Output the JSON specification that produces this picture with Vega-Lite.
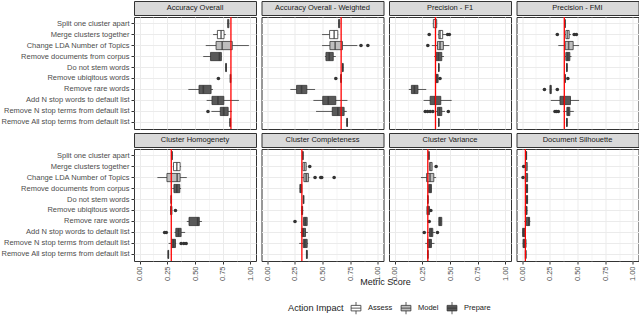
{
  "$schema": "https://vega.github.io/schema/vega-lite/v6.json",
  "padding": 0,
  "background": "white",
  "config": {
    "font": "Liberation Sans",
    "view": {"stroke": "#333333", "strokeWidth": 1, "fill": "white"},
    "legend": {"titleFontSize": 9.2, "titleFontWeight": "normal", "titleColor": "#1a1a1a", "labelFontSize": 7.5, "labelColor": "#1a1a1a", "symbolType": "M-0.8,-0.45L0.8,-0.45L0.8,0.45L-0.8,0.45Z M-0.8,0L0.8,0 M0,-0.45L0,-1 M0,0.45L0,1", "symbolSize": 150, "symbolStrokeColor": "#333333", "symbolStrokeWidth": 0.8, "columnPadding": 6, "labelOffset": 5, "titlePadding": 5}
  },
  "datasets": {
    "d": [
      {"p":"Accuracy Overall","a":"Split one cluster apart","i":"Assess","lo":0.79,"q1":0.795,"md":0.8,"q3":0.805,"hi":0.81},
      {"p":"Accuracy Overall","a":"Merge clusters together","i":"Assess","lo":0.663,"q1":0.702,"md":0.735,"q3":0.762,"hi":0.778},
      {"p":"Accuracy Overall","a":"Change LDA Number of Topics","i":"Model","lo":0.597,"q1":0.69,"md":0.745,"q3":0.836,"hi":0.986},
      {"p":"Accuracy Overall","a":"Remove documents from corpus","i":"Prepare","lo":0.574,"q1":0.64,"md":0.72,"q3":0.738,"hi":0.738},
      {"p":"Accuracy Overall","a":"Do not stem words","i":"Prepare","lo":0.775,"q1":0.777,"md":0.78,"q3":0.783,"hi":0.785},
      {"p":"Accuracy Overall","a":"Remove ubiqitous words","i":"Prepare","lo":0.815,"q1":0.818,"md":0.82,"q3":0.822,"hi":0.825},
      {"p":"Accuracy Overall","a":"Remove rare words","i":"Prepare","lo":0.44,"q1":0.536,"md":0.575,"q3":0.645,"hi":0.662},
      {"p":"Accuracy Overall","a":"Add N stop words to default list","i":"Prepare","lo":0.605,"q1":0.653,"md":0.707,"q3":0.76,"hi":0.896},
      {"p":"Accuracy Overall","a":"Remove N stop terms from default list","i":"Prepare","lo":0.648,"q1":0.728,"md":0.759,"q3":0.799,"hi":0.833},
      {"p":"Accuracy Overall","a":"Remove All stop terms from default list","i":"Prepare","lo":0.81,"q1":0.814,"md":0.818,"q3":0.82,"hi":0.823},
      {"p":"Accuracy Overall","a":"Remove ubiqitous words","v":0.711},
      {"p":"Accuracy Overall","a":"Remove N stop terms from default list","v":0.617},
      {"p":"Accuracy Overall","b":0.824},

      {"p":"Accuracy Overall - Weighted","a":"Split one cluster apart","i":"Assess","lo":0.64,"q1":0.645,"md":0.65,"q3":0.655,"hi":0.66},
      {"p":"Accuracy Overall - Weighted","a":"Merge clusters together","i":"Assess","lo":0.496,"q1":0.564,"md":0.605,"q3":0.638,"hi":0.641},
      {"p":"Accuracy Overall - Weighted","a":"Change LDA Number of Topics","i":"Model","lo":0.496,"q1":0.567,"md":0.614,"q3":0.68,"hi":0.814},
      {"p":"Accuracy Overall - Weighted","a":"Remove documents from corpus","i":"Prepare","lo":0.522,"q1":0.531,"md":0.561,"q3":0.597,"hi":0.62},
      {"p":"Accuracy Overall - Weighted","a":"Do not stem words","i":"Prepare","lo":0.678,"q1":0.68,"md":0.683,"q3":0.686,"hi":0.688},
      {"p":"Accuracy Overall - Weighted","a":"Remove ubiqitous words","i":"Prepare","lo":0.663,"q1":0.665,"md":0.668,"q3":0.67,"hi":0.672},
      {"p":"Accuracy Overall - Weighted","a":"Remove rare words","i":"Prepare","lo":0.21,"q1":0.266,"md":0.311,"q3":0.359,"hi":0.433},
      {"p":"Accuracy Overall - Weighted","a":"Add N stop words to default list","i":"Prepare","lo":0.418,"q1":0.502,"md":0.552,"q3":0.62,"hi":0.725},
      {"p":"Accuracy Overall - Weighted","a":"Remove N stop terms from default list","i":"Prepare","lo":0.442,"q1":0.588,"md":0.638,"q3":0.695,"hi":0.719},
      {"p":"Accuracy Overall - Weighted","a":"Remove All stop terms from default list","i":"Prepare","lo":0.717,"q1":0.719,"md":0.722,"q3":0.725,"hi":0.728},
      {"p":"Accuracy Overall - Weighted","a":"Change LDA Number of Topics","v":0.847},
      {"p":"Accuracy Overall - Weighted","a":"Change LDA Number of Topics","v":0.909},
      {"p":"Accuracy Overall - Weighted","a":"Remove ubiqitous words","v":0.62},
      {"p":"Accuracy Overall - Weighted","b":0.668},

      {"p":"Precision - F1","a":"Split one cluster apart","i":"Assess","lo":0.345,"q1":0.35,"md":0.37,"q3":0.38,"hi":0.385},
      {"p":"Precision - F1","a":"Merge clusters together","i":"Assess","lo":0.39,"q1":0.399,"md":0.41,"q3":0.434,"hi":0.47},
      {"p":"Precision - F1","a":"Change LDA Number of Topics","i":"Model","lo":0.336,"q1":0.387,"md":0.41,"q3":0.44,"hi":0.494},
      {"p":"Precision - F1","a":"Remove documents from corpus","i":"Prepare","lo":0.357,"q1":0.375,"md":0.396,"q3":0.426,"hi":0.446},
      {"p":"Precision - F1","a":"Do not stem words","i":"Prepare","lo":0.394,"q1":0.397,"md":0.399,"q3":0.401,"hi":0.404},
      {"p":"Precision - F1","a":"Remove ubiqitous words","i":"Prepare","lo":0.365,"q1":0.369,"md":0.38,"q3":0.393,"hi":0.397},
      {"p":"Precision - F1","a":"Remove rare words","i":"Prepare","lo":0.128,"q1":0.152,"md":0.179,"q3":0.211,"hi":0.286},
      {"p":"Precision - F1","a":"Add N stop words to default list","i":"Prepare","lo":0.262,"q1":0.321,"md":0.366,"q3":0.417,"hi":0.515},
      {"p":"Precision - F1","a":"Remove N stop terms from default list","i":"Prepare","lo":0.366,"q1":0.387,"md":0.405,"q3":0.426,"hi":0.455},
      {"p":"Precision - F1","a":"Remove All stop terms from default list","i":"Prepare","lo":0.394,"q1":0.397,"md":0.399,"q3":0.401,"hi":0.404},
      {"p":"Precision - F1","a":"Merge clusters together","v":0.3125},
      {"p":"Precision - F1","a":"Merge clusters together","v":0.479},
      {"p":"Precision - F1","a":"Merge clusters together","v":0.494},
      {"p":"Precision - F1","a":"Change LDA Number of Topics","v":0.3},
      {"p":"Precision - F1","a":"Remove ubiqitous words","v":0.41},
      {"p":"Precision - F1","a":"Remove N stop terms from default list","v":0.277},
      {"p":"Precision - F1","a":"Remove N stop terms from default list","v":0.298},
      {"p":"Precision - F1","a":"Remove N stop terms from default list","v":0.321},
      {"p":"Precision - F1","a":"Remove N stop terms from default list","v":0.345},
      {"p":"Precision - F1","a":"Remove N stop terms from default list","v":0.485},
      {"p":"Precision - F1","b":0.369},

      {"p":"Precision - FMI","a":"Split one cluster apart","i":"Assess","lo":0.383,"q1":0.385,"md":0.387,"q3":0.389,"hi":0.391},
      {"p":"Precision - FMI","a":"Merge clusters together","i":"Assess","lo":0.387,"q1":0.395,"md":0.41,"q3":0.425,"hi":0.44},
      {"p":"Precision - FMI","a":"Change LDA Number of Topics","i":"Model","lo":0.327,"q1":0.389,"md":0.42,"q3":0.461,"hi":0.514},
      {"p":"Precision - FMI","a":"Remove documents from corpus","i":"Prepare","lo":0.387,"q1":0.395,"md":0.413,"q3":0.431,"hi":0.446},
      {"p":"Precision - FMI","a":"Do not stem words","i":"Prepare","lo":0.399,"q1":0.401,"md":0.404,"q3":0.407,"hi":0.409},
      {"p":"Precision - FMI","a":"Remove ubiqitous words","i":"Prepare","lo":0.383,"q1":0.385,"md":0.387,"q3":0.39,"hi":0.392},
      {"p":"Precision - FMI","a":"Remove rare words","i":"Prepare","lo":0.25,"q1":0.252,"md":0.257,"q3":0.263,"hi":0.265},
      {"p":"Precision - FMI","a":"Add N stop words to default list","i":"Prepare","lo":0.259,"q1":0.342,"md":0.378,"q3":0.437,"hi":0.514},
      {"p":"Precision - FMI","a":"Remove N stop terms from default list","i":"Prepare","lo":0.371,"q1":0.404,"md":0.416,"q3":0.431,"hi":0.467},
      {"p":"Precision - FMI","a":"Remove All stop terms from default list","i":"Prepare","lo":0.399,"q1":0.401,"md":0.404,"q3":0.407,"hi":0.409},
      {"p":"Precision - FMI","a":"Merge clusters together","v":0.318},
      {"p":"Precision - FMI","a":"Merge clusters together","v":0.47},
      {"p":"Precision - FMI","a":"Merge clusters together","v":0.49},
      {"p":"Precision - FMI","a":"Remove ubiqitous words","v":0.413},
      {"p":"Precision - FMI","a":"Remove rare words","v":0.202},
      {"p":"Precision - FMI","a":"Remove rare words","v":0.318},
      {"p":"Precision - FMI","a":"Remove N stop terms from default list","v":0.297},
      {"p":"Precision - FMI","a":"Remove N stop terms from default list","v":0.311},
      {"p":"Precision - FMI","a":"Remove N stop terms from default list","v":0.327},
      {"p":"Precision - FMI","b":0.381},

      {"p":"Cluster Homogenety","a":"Split one cluster apart","i":"Assess","lo":0.285,"q1":0.288,"md":0.292,"q3":0.296,"hi":0.298},
      {"p":"Cluster Homogenety","a":"Merge clusters together","i":"Assess","lo":0.3,"q1":0.306,"md":0.336,"q3":0.366,"hi":0.375},
      {"p":"Cluster Homogenety","a":"Change LDA Number of Topics","i":"Model","lo":0.161,"q1":0.247,"md":0.339,"q3":0.366,"hi":0.426},
      {"p":"Cluster Homogenety","a":"Remove documents from corpus","i":"Prepare","lo":0.295,"q1":0.31,"md":0.336,"q3":0.363,"hi":0.375},
      {"p":"Cluster Homogenety","a":"Do not stem words","i":"Prepare","lo":0.283,"q1":0.284,"md":0.286,"q3":0.288,"hi":0.29},
      {"p":"Cluster Homogenety","a":"Remove ubiqitous words","i":"Prepare","lo":0.276,"q1":0.28,"md":0.286,"q3":0.292,"hi":0.295},
      {"p":"Cluster Homogenety","a":"Remove rare words","i":"Prepare","lo":0.426,"q1":0.446,"md":0.524,"q3":0.539,"hi":0.5625},
      {"p":"Cluster Homogenety","a":"Add N stop words to default list","i":"Prepare","lo":0.315,"q1":0.327,"md":0.351,"q3":0.375,"hi":0.411},
      {"p":"Cluster Homogenety","a":"Remove N stop terms from default list","i":"Prepare","lo":0.262,"q1":0.289,"md":0.306,"q3":0.324,"hi":0.33},
      {"p":"Cluster Homogenety","a":"Remove All stop terms from default list","i":"Prepare","lo":0.256,"q1":0.257,"md":0.259,"q3":0.262,"hi":0.263},
      {"p":"Cluster Homogenety","a":"Remove ubiqitous words","v":0.324},
      {"p":"Cluster Homogenety","a":"Add N stop words to default list","v":0.226},
      {"p":"Cluster Homogenety","a":"Add N stop words to default list","v":0.241},
      {"p":"Cluster Homogenety","a":"Remove N stop terms from default list","v":0.375},
      {"p":"Cluster Homogenety","a":"Remove N stop terms from default list","v":0.399},
      {"p":"Cluster Homogenety","a":"Remove N stop terms from default list","v":0.42},
      {"p":"Cluster Homogenety","b":0.286},

      {"p":"Cluster Completeness","a":"Split one cluster apart","i":"Assess","lo":0.318,"q1":0.32,"md":0.323,"q3":0.326,"hi":0.328},
      {"p":"Cluster Completeness","a":"Merge clusters together","i":"Assess","lo":0.32,"q1":0.323,"md":0.338,"q3":0.353,"hi":0.356},
      {"p":"Cluster Completeness","a":"Change LDA Number of Topics","i":"Model","lo":0.308,"q1":0.332,"md":0.353,"q3":0.373,"hi":0.382},
      {"p":"Cluster Completeness","a":"Remove documents from corpus","i":"Prepare","lo":0.294,"q1":0.296,"md":0.305,"q3":0.314,"hi":0.316},
      {"p":"Cluster Completeness","a":"Do not stem words","i":"Prepare","lo":0.326,"q1":0.327,"md":0.329,"q3":0.331,"hi":0.332},
      {"p":"Cluster Completeness","a":"Remove ubiqitous words","i":"Prepare","lo":0.305,"q1":0.312,"md":0.317,"q3":0.321,"hi":0.328},
      {"p":"Cluster Completeness","a":"Remove rare words","i":"Prepare","lo":0.329,"q1":0.329,"md":0.344,"q3":0.362,"hi":0.362},
      {"p":"Cluster Completeness","a":"Add N stop words to default list","i":"Prepare","lo":0.299,"q1":0.314,"md":0.326,"q3":0.347,"hi":0.368},
      {"p":"Cluster Completeness","a":"Remove N stop terms from default list","i":"Prepare","lo":0.29,"q1":0.326,"md":0.341,"q3":0.362,"hi":0.37},
      {"p":"Cluster Completeness","a":"Remove All stop terms from default list","i":"Prepare","lo":0.353,"q1":0.355,"md":0.359,"q3":0.362,"hi":0.364},
      {"p":"Cluster Completeness","a":"Merge clusters together","v":0.385},
      {"p":"Cluster Completeness","a":"Change LDA Number of Topics","v":0.433},
      {"p":"Cluster Completeness","a":"Change LDA Number of Topics","v":0.484},
      {"p":"Cluster Completeness","a":"Change LDA Number of Topics","v":0.493},
      {"p":"Cluster Completeness","a":"Change LDA Number of Topics","v":0.605},
      {"p":"Cluster Completeness","a":"Remove rare words","v":0.252},
      {"p":"Cluster Completeness","b":0.314},

      {"p":"Cluster Variance","a":"Split one cluster apart","i":"Assess","lo":0.306,"q1":0.308,"md":0.31,"q3":0.312,"hi":0.314},
      {"p":"Cluster Variance","a":"Merge clusters together","i":"Assess","lo":0.315,"q1":0.315,"md":0.327,"q3":0.339,"hi":0.339},
      {"p":"Cluster Variance","a":"Change LDA Number of Topics","i":"Model","lo":0.238,"q1":0.289,"md":0.32,"q3":0.354,"hi":0.375},
      {"p":"Cluster Variance","a":"Remove documents from corpus","i":"Prepare","lo":0.307,"q1":0.307,"md":0.32,"q3":0.333,"hi":0.333},
      {"p":"Cluster Variance","a":"Do not stem words","i":"Prepare","lo":0.297,"q1":0.298,"md":0.3,"q3":0.302,"hi":0.303},
      {"p":"Cluster Variance","a":"Remove ubiqitous words","i":"Prepare","lo":0.292,"q1":0.292,"md":0.3,"q3":0.315,"hi":0.315},
      {"p":"Cluster Variance","a":"Remove rare words","i":"Prepare","lo":0.399,"q1":0.399,"md":0.41,"q3":0.426,"hi":0.426},
      {"p":"Cluster Variance","a":"Add N stop words to default list","i":"Prepare","lo":0.292,"q1":0.315,"md":0.33,"q3":0.345,"hi":0.366},
      {"p":"Cluster Variance","a":"Remove N stop terms from default list","i":"Prepare","lo":0.277,"q1":0.298,"md":0.318,"q3":0.333,"hi":0.36},
      {"p":"Cluster Variance","a":"Remove All stop terms from default list","i":"Prepare","lo":0.297,"q1":0.298,"md":0.3,"q3":0.302,"hi":0.303},
      {"p":"Cluster Variance","a":"Merge clusters together","v":0.375},
      {"p":"Cluster Variance","a":"Remove ubiqitous words","v":0.327},
      {"p":"Cluster Variance","a":"Remove rare words","v":0.3125},
      {"p":"Cluster Variance","a":"Add N stop words to default list","v":0.268},
      {"p":"Cluster Variance","a":"Add N stop words to default list","v":0.387},
      {"p":"Cluster Variance","b":0.3},

      {"p":"Document Silhouette","a":"Split one cluster apart","i":"Assess","lo":0.033,"q1":0.035,"md":0.038,"q3":0.041,"hi":0.043},
      {"p":"Document Silhouette","a":"Merge clusters together","i":"Assess","lo":0.03,"q1":0.03,"md":0.038,"q3":0.047,"hi":0.047},
      {"p":"Document Silhouette","a":"Change LDA Number of Topics","i":"Model","lo":0.03,"q1":0.03,"md":0.04,"q3":0.05,"hi":0.05},
      {"p":"Document Silhouette","a":"Remove documents from corpus","i":"Prepare","lo":0.038,"q1":0.038,"md":0.044,"q3":0.05,"hi":0.05},
      {"p":"Document Silhouette","a":"Do not stem words","i":"Prepare","lo":0.04,"q1":0.04,"md":0.045,"q3":0.05,"hi":0.05},
      {"p":"Document Silhouette","a":"Remove ubiqitous words","i":"Prepare","lo":0.025,"q1":0.03,"md":0.038,"q3":0.045,"hi":0.05},
      {"p":"Document Silhouette","a":"Remove rare words","i":"Prepare","lo":0.02,"q1":0.038,"md":0.06,"q3":0.068,"hi":0.075},
      {"p":"Document Silhouette","a":"Add N stop words to default list","i":"Prepare","lo":0.005,"q1":0.005,"md":0.015,"q3":0.03,"hi":0.03},
      {"p":"Document Silhouette","a":"Remove N stop terms from default list","i":"Prepare","lo":0.005,"q1":0.009,"md":0.02,"q3":0.036,"hi":0.04},
      {"p":"Document Silhouette","a":"Remove All stop terms from default list","i":"Prepare","lo":0.028,"q1":0.03,"md":0.033,"q3":0.036,"hi":0.038},
      {"p":"Document Silhouette","a":"Merge clusters together","v":0.015},
      {"p":"Document Silhouette","a":"Change LDA Number of Topics","v":0.009},
      {"p":"Document Silhouette","b":0.03}
    ]
  },
  "vconcat": [
    {"hconcat": [
      {"vconcat": [
        {"width": 122, "height": 14, "view": {"fill": "#d9d9d9", "stroke": "#333333"}, "data": {"name": "d"}, "transform": [{"filter": "isValid(datum.b) && datum.p == 'Accuracy Overall'"}], "mark": {"type": "text", "fontSize": 7.5, "color": "#1a1a1a"}, "encoding": {"text": {"field": "p"}}},
        {"width": 122, "height": 112, "data": {"name": "d"}, "transform": [{"filter": "datum.p == 'Accuracy Overall'"}],
         "resolve": {"axis": {"x": "independent", "y": "independent"}},
         "layer": [
          {"transform": [{"filter": "isValid(datum.q1)"}], "mark": {"type": "rule", "color": "#333333", "strokeWidth": 0.8},
           "encoding": {"y": {"field": "a", "type": "nominal", "scale": {"domain": ["Split one cluster apart","Merge clusters together","Change LDA Number of Topics","Remove documents from corpus","Do not stem words","Remove ubiqitous words","Remove rare words","Add N stop words to default list","Remove N stop terms from default list","Remove All stop terms from default list"], "paddingInner": 0, "paddingOuter": 0.1},
             "axis": {"title": null, "labelFontSize": 7.5, "labelColor": "#4d4d4d", "tickColor": "#333333", "tickSize": 3, "labelPadding": 2, "domain": false, "grid": true, "gridColor": "#ebebeb", "bandPosition": 0.5, "labelLimit": 300}},
            "x": {"field": "lo", "type": "quantitative", "scale": {"domain": [-0.05, 1.05], "nice": false, "zero": false},
             "axis": {"title": null, "values": [0,0.25,0.5,0.75,1], "labels": false, "ticks": false, "domain": false, "grid": true, "gridColor": "#ebebeb", "gridWidth": 1, "minExtent": 0, "maxExtent": 0}},
            "x2": {"field": "hi"}}},
          {"transform": [{"filter": "isValid(datum.q1)"}], "mark": {"type": "bar", "stroke": "#333333", "strokeWidth": 0.8, "height": {"band": 0.75}},
           "encoding": {"y": {"field": "a", "type": "nominal", "axis": null}, "x": {"field": "q1", "type": "quantitative", "axis": null}, "x2": {"field": "q3"},
            "fill": {"field": "i", "type": "nominal", "title": "Action Impact", "scale": {"domain": ["Assess","Model","Prepare"], "range": ["#ffffff","#bebebe","#595959"]}, "legend": {"orient": "none", "legendX": 154, "legendY": 300, "direction": "horizontal", "titleOrient": "left"}}}},
          {"transform": [{"filter": "isValid(datum.q1)"}], "mark": {"type": "tick", "color": "#333333", "thickness": 1.6, "size": 8.2},
           "encoding": {"y": {"field": "a", "type": "nominal", "axis": null}, "x": {"field": "md", "type": "quantitative", "axis": null}}},
          {"transform": [{"filter": "isValid(datum.v)"}], "mark": {"type": "circle", "color": "#333333", "size": 13, "opacity": 1},
           "encoding": {"y": {"field": "a", "type": "nominal", "axis": null}, "x": {"field": "v", "type": "quantitative", "axis": null}}},
          {"transform": [{"filter": "isValid(datum.b)"}], "mark": {"type": "rule", "color": "#ff0000", "strokeWidth": 1.3},
           "encoding": {"x": {"field": "b", "type": "quantitative", "axis": {"orient": "top", "title": null, "values": [0.125,0.375,0.625,0.875], "labels": false, "ticks": false, "domain": false, "grid": true, "gridColor": "#efefef", "gridWidth": 0.6, "minExtent": 0, "maxExtent": 0}}}}
         ]}
      ], "spacing": -1},
      {"vconcat": [
        {"width": 122, "height": 14, "view": {"fill": "#d9d9d9", "stroke": "#333333"}, "data": {"name": "d"}, "transform": [{"filter": "isValid(datum.b) && datum.p == 'Accuracy Overall - Weighted'"}], "mark": {"type": "text", "fontSize": 7.5, "color": "#1a1a1a"}, "encoding": {"text": {"field": "p"}}},
        {"width": 122, "height": 112, "data": {"name": "d"}, "transform": [{"filter": "datum.p == 'Accuracy Overall - Weighted'"}],
         "resolve": {"axis": {"x": "independent", "y": "independent"}},
         "layer": [
          {"transform": [{"filter": "isValid(datum.q1)"}], "mark": {"type": "rule", "color": "#333333", "strokeWidth": 0.8},
           "encoding": {"y": {"field": "a", "type": "nominal", "scale": {"domain": ["Split one cluster apart","Merge clusters together","Change LDA Number of Topics","Remove documents from corpus","Do not stem words","Remove ubiqitous words","Remove rare words","Add N stop words to default list","Remove N stop terms from default list","Remove All stop terms from default list"], "paddingInner": 0, "paddingOuter": 0.1},
             "axis": {"title": null, "labels": false, "ticks": false, "domain": false, "grid": true, "gridColor": "#ebebeb", "bandPosition": 0.5, "minExtent": 0, "maxExtent": 0}},
            "x": {"field": "lo", "type": "quantitative", "scale": {"domain": [-0.05, 1.05], "nice": false, "zero": false},
             "axis": {"title": null, "values": [0,0.25,0.5,0.75,1], "labels": false, "ticks": false, "domain": false, "grid": true, "gridColor": "#ebebeb", "gridWidth": 1, "minExtent": 0, "maxExtent": 0}},
            "x2": {"field": "hi"}}},
          {"transform": [{"filter": "isValid(datum.q1)"}], "mark": {"type": "bar", "stroke": "#333333", "strokeWidth": 0.8, "height": {"band": 0.75}},
           "encoding": {"y": {"field": "a", "type": "nominal", "axis": null}, "x": {"field": "q1", "type": "quantitative", "axis": null}, "x2": {"field": "q3"},
            "fill": {"field": "i", "type": "nominal", "title": "Action Impact", "scale": {"domain": ["Assess","Model","Prepare"], "range": ["#ffffff","#bebebe","#595959"]}, "legend": {"orient": "none", "legendX": 154, "legendY": 300, "direction": "horizontal", "titleOrient": "left"}}}},
          {"transform": [{"filter": "isValid(datum.q1)"}], "mark": {"type": "tick", "color": "#333333", "thickness": 1.6, "size": 8.2},
           "encoding": {"y": {"field": "a", "type": "nominal", "axis": null}, "x": {"field": "md", "type": "quantitative", "axis": null}}},
          {"transform": [{"filter": "isValid(datum.v)"}], "mark": {"type": "circle", "color": "#333333", "size": 13, "opacity": 1},
           "encoding": {"y": {"field": "a", "type": "nominal", "axis": null}, "x": {"field": "v", "type": "quantitative", "axis": null}}},
          {"transform": [{"filter": "isValid(datum.b)"}], "mark": {"type": "rule", "color": "#ff0000", "strokeWidth": 1.3},
           "encoding": {"x": {"field": "b", "type": "quantitative", "axis": {"orient": "top", "title": null, "values": [0.125,0.375,0.625,0.875], "labels": false, "ticks": false, "domain": false, "grid": true, "gridColor": "#efefef", "gridWidth": 0.6, "minExtent": 0, "maxExtent": 0}}}}
         ]}
      ], "spacing": -1},
      {"vconcat": [
        {"width": 122, "height": 14, "view": {"fill": "#d9d9d9", "stroke": "#333333"}, "data": {"name": "d"}, "transform": [{"filter": "isValid(datum.b) && datum.p == 'Precision - F1'"}], "mark": {"type": "text", "fontSize": 7.5, "color": "#1a1a1a"}, "encoding": {"text": {"field": "p"}}},
        {"width": 122, "height": 112, "data": {"name": "d"}, "transform": [{"filter": "datum.p == 'Precision - F1'"}],
         "resolve": {"axis": {"x": "independent", "y": "independent"}},
         "layer": [
          {"transform": [{"filter": "isValid(datum.q1)"}], "mark": {"type": "rule", "color": "#333333", "strokeWidth": 0.8},
           "encoding": {"y": {"field": "a", "type": "nominal", "scale": {"domain": ["Split one cluster apart","Merge clusters together","Change LDA Number of Topics","Remove documents from corpus","Do not stem words","Remove ubiqitous words","Remove rare words","Add N stop words to default list","Remove N stop terms from default list","Remove All stop terms from default list"], "paddingInner": 0, "paddingOuter": 0.1},
             "axis": {"title": null, "labels": false, "ticks": false, "domain": false, "grid": true, "gridColor": "#ebebeb", "bandPosition": 0.5, "minExtent": 0, "maxExtent": 0}},
            "x": {"field": "lo", "type": "quantitative", "scale": {"domain": [-0.05, 1.05], "nice": false, "zero": false},
             "axis": {"title": null, "values": [0,0.25,0.5,0.75,1], "labels": false, "ticks": false, "domain": false, "grid": true, "gridColor": "#ebebeb", "gridWidth": 1, "minExtent": 0, "maxExtent": 0}},
            "x2": {"field": "hi"}}},
          {"transform": [{"filter": "isValid(datum.q1)"}], "mark": {"type": "bar", "stroke": "#333333", "strokeWidth": 0.8, "height": {"band": 0.75}},
           "encoding": {"y": {"field": "a", "type": "nominal", "axis": null}, "x": {"field": "q1", "type": "quantitative", "axis": null}, "x2": {"field": "q3"},
            "fill": {"field": "i", "type": "nominal", "title": "Action Impact", "scale": {"domain": ["Assess","Model","Prepare"], "range": ["#ffffff","#bebebe","#595959"]}, "legend": {"orient": "none", "legendX": 154, "legendY": 300, "direction": "horizontal", "titleOrient": "left"}}}},
          {"transform": [{"filter": "isValid(datum.q1)"}], "mark": {"type": "tick", "color": "#333333", "thickness": 1.6, "size": 8.2},
           "encoding": {"y": {"field": "a", "type": "nominal", "axis": null}, "x": {"field": "md", "type": "quantitative", "axis": null}}},
          {"transform": [{"filter": "isValid(datum.v)"}], "mark": {"type": "circle", "color": "#333333", "size": 13, "opacity": 1},
           "encoding": {"y": {"field": "a", "type": "nominal", "axis": null}, "x": {"field": "v", "type": "quantitative", "axis": null}}},
          {"transform": [{"filter": "isValid(datum.b)"}], "mark": {"type": "rule", "color": "#ff0000", "strokeWidth": 1.3},
           "encoding": {"x": {"field": "b", "type": "quantitative", "axis": {"orient": "top", "title": null, "values": [0.125,0.375,0.625,0.875], "labels": false, "ticks": false, "domain": false, "grid": true, "gridColor": "#efefef", "gridWidth": 0.6, "minExtent": 0, "maxExtent": 0}}}}
         ]}
      ], "spacing": -1},
      {"vconcat": [
        {"width": 122, "height": 14, "view": {"fill": "#d9d9d9", "stroke": "#333333"}, "data": {"name": "d"}, "transform": [{"filter": "isValid(datum.b) && datum.p == 'Precision - FMI'"}], "mark": {"type": "text", "fontSize": 7.5, "color": "#1a1a1a"}, "encoding": {"text": {"field": "p"}}},
        {"width": 122, "height": 112, "data": {"name": "d"}, "transform": [{"filter": "datum.p == 'Precision - FMI'"}],
         "resolve": {"axis": {"x": "independent", "y": "independent"}},
         "layer": [
          {"transform": [{"filter": "isValid(datum.q1)"}], "mark": {"type": "rule", "color": "#333333", "strokeWidth": 0.8},
           "encoding": {"y": {"field": "a", "type": "nominal", "scale": {"domain": ["Split one cluster apart","Merge clusters together","Change LDA Number of Topics","Remove documents from corpus","Do not stem words","Remove ubiqitous words","Remove rare words","Add N stop words to default list","Remove N stop terms from default list","Remove All stop terms from default list"], "paddingInner": 0, "paddingOuter": 0.1},
             "axis": {"title": null, "labels": false, "ticks": false, "domain": false, "grid": true, "gridColor": "#ebebeb", "bandPosition": 0.5, "minExtent": 0, "maxExtent": 0}},
            "x": {"field": "lo", "type": "quantitative", "scale": {"domain": [-0.05, 1.05], "nice": false, "zero": false},
             "axis": {"title": null, "values": [0,0.25,0.5,0.75,1], "labels": false, "ticks": false, "domain": false, "grid": true, "gridColor": "#ebebeb", "gridWidth": 1, "minExtent": 0, "maxExtent": 0}},
            "x2": {"field": "hi"}}},
          {"transform": [{"filter": "isValid(datum.q1)"}], "mark": {"type": "bar", "stroke": "#333333", "strokeWidth": 0.8, "height": {"band": 0.75}},
           "encoding": {"y": {"field": "a", "type": "nominal", "axis": null}, "x": {"field": "q1", "type": "quantitative", "axis": null}, "x2": {"field": "q3"},
            "fill": {"field": "i", "type": "nominal", "title": "Action Impact", "scale": {"domain": ["Assess","Model","Prepare"], "range": ["#ffffff","#bebebe","#595959"]}, "legend": {"orient": "none", "legendX": 154, "legendY": 300, "direction": "horizontal", "titleOrient": "left"}}}},
          {"transform": [{"filter": "isValid(datum.q1)"}], "mark": {"type": "tick", "color": "#333333", "thickness": 1.6, "size": 8.2},
           "encoding": {"y": {"field": "a", "type": "nominal", "axis": null}, "x": {"field": "md", "type": "quantitative", "axis": null}}},
          {"transform": [{"filter": "isValid(datum.v)"}], "mark": {"type": "circle", "color": "#333333", "size": 13, "opacity": 1},
           "encoding": {"y": {"field": "a", "type": "nominal", "axis": null}, "x": {"field": "v", "type": "quantitative", "axis": null}}},
          {"transform": [{"filter": "isValid(datum.b)"}], "mark": {"type": "rule", "color": "#ff0000", "strokeWidth": 1.3},
           "encoding": {"x": {"field": "b", "type": "quantitative", "axis": {"orient": "top", "title": null, "values": [0.125,0.375,0.625,0.875], "labels": false, "ticks": false, "domain": false, "grid": true, "gridColor": "#efefef", "gridWidth": 0.6, "minExtent": 0, "maxExtent": 0}}}}
         ]}
      ], "spacing": -1}
    ], "spacing": 3.5},
    {"title": {"text": "Metric Score", "orient": "bottom", "anchor": "middle", "fontSize": 9, "fontWeight": "normal", "color": "#1a1a1a", "offset": -3, "dx": 66},
     "hconcat": [
      {"vconcat": [
        {"width": 122, "height": 14, "view": {"fill": "#d9d9d9", "stroke": "#333333"}, "data": {"name": "d"}, "transform": [{"filter": "isValid(datum.b) && datum.p == 'Cluster Homogenety'"}], "mark": {"type": "text", "fontSize": 7.5, "color": "#1a1a1a"}, "encoding": {"text": {"field": "p"}}},
        {"width": 122, "height": 112, "data": {"name": "d"}, "transform": [{"filter": "datum.p == 'Cluster Homogenety'"}],
         "resolve": {"axis": {"x": "independent", "y": "independent"}},
         "layer": [
          {"transform": [{"filter": "isValid(datum.q1)"}], "mark": {"type": "rule", "color": "#333333", "strokeWidth": 0.8},
           "encoding": {"y": {"field": "a", "type": "nominal", "scale": {"domain": ["Split one cluster apart","Merge clusters together","Change LDA Number of Topics","Remove documents from corpus","Do not stem words","Remove ubiqitous words","Remove rare words","Add N stop words to default list","Remove N stop terms from default list","Remove All stop terms from default list"], "paddingInner": 0, "paddingOuter": 0.1},
             "axis": {"title": null, "labelFontSize": 7.5, "labelColor": "#4d4d4d", "tickColor": "#333333", "tickSize": 3, "labelPadding": 2, "domain": false, "grid": true, "gridColor": "#ebebeb", "bandPosition": 0.5, "labelLimit": 300}},
            "x": {"field": "lo", "type": "quantitative", "scale": {"domain": [-0.05, 1.05], "nice": false, "zero": false},
             "axis": {"title": null, "values": [0,0.25,0.5,0.75,1], "format": ".2f", "labelAngle": 270, "labelFontSize": 7.5, "labelColor": "#4d4d4d", "labelPadding": 2, "labelFlush": false, "tickSize": 3, "tickColor": "#333333", "domain": false, "grid": true, "gridColor": "#ebebeb", "gridWidth": 1}},
            "x2": {"field": "hi"}}},
          {"transform": [{"filter": "isValid(datum.q1)"}], "mark": {"type": "bar", "stroke": "#333333", "strokeWidth": 0.8, "height": {"band": 0.75}},
           "encoding": {"y": {"field": "a", "type": "nominal", "axis": null}, "x": {"field": "q1", "type": "quantitative", "axis": null}, "x2": {"field": "q3"},
            "fill": {"field": "i", "type": "nominal", "title": "Action Impact", "scale": {"domain": ["Assess","Model","Prepare"], "range": ["#ffffff","#bebebe","#595959"]}, "legend": {"orient": "none", "legendX": 154, "legendY": 300, "direction": "horizontal", "titleOrient": "left"}}}},
          {"transform": [{"filter": "isValid(datum.q1)"}], "mark": {"type": "tick", "color": "#333333", "thickness": 1.6, "size": 8.2},
           "encoding": {"y": {"field": "a", "type": "nominal", "axis": null}, "x": {"field": "md", "type": "quantitative", "axis": null}}},
          {"transform": [{"filter": "isValid(datum.v)"}], "mark": {"type": "circle", "color": "#333333", "size": 13, "opacity": 1},
           "encoding": {"y": {"field": "a", "type": "nominal", "axis": null}, "x": {"field": "v", "type": "quantitative", "axis": null}}},
          {"transform": [{"filter": "isValid(datum.b)"}], "mark": {"type": "rule", "color": "#ff0000", "strokeWidth": 1.3},
           "encoding": {"x": {"field": "b", "type": "quantitative", "axis": {"orient": "top", "title": null, "values": [0.125,0.375,0.625,0.875], "labels": false, "ticks": false, "domain": false, "grid": true, "gridColor": "#efefef", "gridWidth": 0.6, "minExtent": 0, "maxExtent": 0}}}}
         ]}
      ], "spacing": -1},
      {"vconcat": [
        {"width": 122, "height": 14, "view": {"fill": "#d9d9d9", "stroke": "#333333"}, "data": {"name": "d"}, "transform": [{"filter": "isValid(datum.b) && datum.p == 'Cluster Completeness'"}], "mark": {"type": "text", "fontSize": 7.5, "color": "#1a1a1a"}, "encoding": {"text": {"field": "p"}}},
        {"width": 122, "height": 112, "data": {"name": "d"}, "transform": [{"filter": "datum.p == 'Cluster Completeness'"}],
         "resolve": {"axis": {"x": "independent", "y": "independent"}},
         "layer": [
          {"transform": [{"filter": "isValid(datum.q1)"}], "mark": {"type": "rule", "color": "#333333", "strokeWidth": 0.8},
           "encoding": {"y": {"field": "a", "type": "nominal", "scale": {"domain": ["Split one cluster apart","Merge clusters together","Change LDA Number of Topics","Remove documents from corpus","Do not stem words","Remove ubiqitous words","Remove rare words","Add N stop words to default list","Remove N stop terms from default list","Remove All stop terms from default list"], "paddingInner": 0, "paddingOuter": 0.1},
             "axis": {"title": null, "labels": false, "ticks": false, "domain": false, "grid": true, "gridColor": "#ebebeb", "bandPosition": 0.5, "minExtent": 0, "maxExtent": 0}},
            "x": {"field": "lo", "type": "quantitative", "scale": {"domain": [-0.05, 1.05], "nice": false, "zero": false},
             "axis": {"title": null, "values": [0,0.25,0.5,0.75,1], "format": ".2f", "labelAngle": 270, "labelFontSize": 7.5, "labelColor": "#4d4d4d", "labelPadding": 2, "labelFlush": false, "tickSize": 3, "tickColor": "#333333", "domain": false, "grid": true, "gridColor": "#ebebeb", "gridWidth": 1}},
            "x2": {"field": "hi"}}},
          {"transform": [{"filter": "isValid(datum.q1)"}], "mark": {"type": "bar", "stroke": "#333333", "strokeWidth": 0.8, "height": {"band": 0.75}},
           "encoding": {"y": {"field": "a", "type": "nominal", "axis": null}, "x": {"field": "q1", "type": "quantitative", "axis": null}, "x2": {"field": "q3"},
            "fill": {"field": "i", "type": "nominal", "title": "Action Impact", "scale": {"domain": ["Assess","Model","Prepare"], "range": ["#ffffff","#bebebe","#595959"]}, "legend": {"orient": "none", "legendX": 154, "legendY": 300, "direction": "horizontal", "titleOrient": "left"}}}},
          {"transform": [{"filter": "isValid(datum.q1)"}], "mark": {"type": "tick", "color": "#333333", "thickness": 1.6, "size": 8.2},
           "encoding": {"y": {"field": "a", "type": "nominal", "axis": null}, "x": {"field": "md", "type": "quantitative", "axis": null}}},
          {"transform": [{"filter": "isValid(datum.v)"}], "mark": {"type": "circle", "color": "#333333", "size": 13, "opacity": 1},
           "encoding": {"y": {"field": "a", "type": "nominal", "axis": null}, "x": {"field": "v", "type": "quantitative", "axis": null}}},
          {"transform": [{"filter": "isValid(datum.b)"}], "mark": {"type": "rule", "color": "#ff0000", "strokeWidth": 1.3},
           "encoding": {"x": {"field": "b", "type": "quantitative", "axis": {"orient": "top", "title": null, "values": [0.125,0.375,0.625,0.875], "labels": false, "ticks": false, "domain": false, "grid": true, "gridColor": "#efefef", "gridWidth": 0.6, "minExtent": 0, "maxExtent": 0}}}}
         ]}
      ], "spacing": -1},
      {"vconcat": [
        {"width": 122, "height": 14, "view": {"fill": "#d9d9d9", "stroke": "#333333"}, "data": {"name": "d"}, "transform": [{"filter": "isValid(datum.b) && datum.p == 'Cluster Variance'"}], "mark": {"type": "text", "fontSize": 7.5, "color": "#1a1a1a"}, "encoding": {"text": {"field": "p"}}},
        {"width": 122, "height": 112, "data": {"name": "d"}, "transform": [{"filter": "datum.p == 'Cluster Variance'"}],
         "resolve": {"axis": {"x": "independent", "y": "independent"}},
         "layer": [
          {"transform": [{"filter": "isValid(datum.q1)"}], "mark": {"type": "rule", "color": "#333333", "strokeWidth": 0.8},
           "encoding": {"y": {"field": "a", "type": "nominal", "scale": {"domain": ["Split one cluster apart","Merge clusters together","Change LDA Number of Topics","Remove documents from corpus","Do not stem words","Remove ubiqitous words","Remove rare words","Add N stop words to default list","Remove N stop terms from default list","Remove All stop terms from default list"], "paddingInner": 0, "paddingOuter": 0.1},
             "axis": {"title": null, "labels": false, "ticks": false, "domain": false, "grid": true, "gridColor": "#ebebeb", "bandPosition": 0.5, "minExtent": 0, "maxExtent": 0}},
            "x": {"field": "lo", "type": "quantitative", "scale": {"domain": [-0.05, 1.05], "nice": false, "zero": false},
             "axis": {"title": null, "values": [0,0.25,0.5,0.75,1], "format": ".2f", "labelAngle": 270, "labelFontSize": 7.5, "labelColor": "#4d4d4d", "labelPadding": 2, "labelFlush": false, "tickSize": 3, "tickColor": "#333333", "domain": false, "grid": true, "gridColor": "#ebebeb", "gridWidth": 1}},
            "x2": {"field": "hi"}}},
          {"transform": [{"filter": "isValid(datum.q1)"}], "mark": {"type": "bar", "stroke": "#333333", "strokeWidth": 0.8, "height": {"band": 0.75}},
           "encoding": {"y": {"field": "a", "type": "nominal", "axis": null}, "x": {"field": "q1", "type": "quantitative", "axis": null}, "x2": {"field": "q3"},
            "fill": {"field": "i", "type": "nominal", "title": "Action Impact", "scale": {"domain": ["Assess","Model","Prepare"], "range": ["#ffffff","#bebebe","#595959"]}, "legend": {"orient": "none", "legendX": 154, "legendY": 300, "direction": "horizontal", "titleOrient": "left"}}}},
          {"transform": [{"filter": "isValid(datum.q1)"}], "mark": {"type": "tick", "color": "#333333", "thickness": 1.6, "size": 8.2},
           "encoding": {"y": {"field": "a", "type": "nominal", "axis": null}, "x": {"field": "md", "type": "quantitative", "axis": null}}},
          {"transform": [{"filter": "isValid(datum.v)"}], "mark": {"type": "circle", "color": "#333333", "size": 13, "opacity": 1},
           "encoding": {"y": {"field": "a", "type": "nominal", "axis": null}, "x": {"field": "v", "type": "quantitative", "axis": null}}},
          {"transform": [{"filter": "isValid(datum.b)"}], "mark": {"type": "rule", "color": "#ff0000", "strokeWidth": 1.3},
           "encoding": {"x": {"field": "b", "type": "quantitative", "axis": {"orient": "top", "title": null, "values": [0.125,0.375,0.625,0.875], "labels": false, "ticks": false, "domain": false, "grid": true, "gridColor": "#efefef", "gridWidth": 0.6, "minExtent": 0, "maxExtent": 0}}}}
         ]}
      ], "spacing": -1},
      {"vconcat": [
        {"width": 122, "height": 14, "view": {"fill": "#d9d9d9", "stroke": "#333333"}, "data": {"name": "d"}, "transform": [{"filter": "isValid(datum.b) && datum.p == 'Document Silhouette'"}], "mark": {"type": "text", "fontSize": 7.5, "color": "#1a1a1a"}, "encoding": {"text": {"field": "p"}}},
        {"width": 122, "height": 112, "data": {"name": "d"}, "transform": [{"filter": "datum.p == 'Document Silhouette'"}],
         "resolve": {"axis": {"x": "independent", "y": "independent"}},
         "layer": [
          {"transform": [{"filter": "isValid(datum.q1)"}], "mark": {"type": "rule", "color": "#333333", "strokeWidth": 0.8},
           "encoding": {"y": {"field": "a", "type": "nominal", "scale": {"domain": ["Split one cluster apart","Merge clusters together","Change LDA Number of Topics","Remove documents from corpus","Do not stem words","Remove ubiqitous words","Remove rare words","Add N stop words to default list","Remove N stop terms from default list","Remove All stop terms from default list"], "paddingInner": 0, "paddingOuter": 0.1},
             "axis": {"title": null, "labels": false, "ticks": false, "domain": false, "grid": true, "gridColor": "#ebebeb", "bandPosition": 0.5, "minExtent": 0, "maxExtent": 0}},
            "x": {"field": "lo", "type": "quantitative", "scale": {"domain": [-0.05, 1.05], "nice": false, "zero": false},
             "axis": {"title": null, "values": [0,0.25,0.5,0.75,1], "format": ".2f", "labelAngle": 270, "labelFontSize": 7.5, "labelColor": "#4d4d4d", "labelPadding": 2, "labelFlush": false, "tickSize": 3, "tickColor": "#333333", "domain": false, "grid": true, "gridColor": "#ebebeb", "gridWidth": 1}},
            "x2": {"field": "hi"}}},
          {"transform": [{"filter": "isValid(datum.q1)"}], "mark": {"type": "bar", "stroke": "#333333", "strokeWidth": 0.8, "height": {"band": 0.75}},
           "encoding": {"y": {"field": "a", "type": "nominal", "axis": null}, "x": {"field": "q1", "type": "quantitative", "axis": null}, "x2": {"field": "q3"},
            "fill": {"field": "i", "type": "nominal", "title": "Action Impact", "scale": {"domain": ["Assess","Model","Prepare"], "range": ["#ffffff","#bebebe","#595959"]}, "legend": {"orient": "none", "legendX": 154, "legendY": 300, "direction": "horizontal", "titleOrient": "left"}}}},
          {"transform": [{"filter": "isValid(datum.q1)"}], "mark": {"type": "tick", "color": "#333333", "thickness": 1.6, "size": 8.2},
           "encoding": {"y": {"field": "a", "type": "nominal", "axis": null}, "x": {"field": "md", "type": "quantitative", "axis": null}}},
          {"transform": [{"filter": "isValid(datum.v)"}], "mark": {"type": "circle", "color": "#333333", "size": 13, "opacity": 1},
           "encoding": {"y": {"field": "a", "type": "nominal", "axis": null}, "x": {"field": "v", "type": "quantitative", "axis": null}}},
          {"transform": [{"filter": "isValid(datum.b)"}], "mark": {"type": "rule", "color": "#ff0000", "strokeWidth": 1.3},
           "encoding": {"x": {"field": "b", "type": "quantitative", "axis": {"orient": "top", "title": null, "values": [0.125,0.375,0.625,0.875], "labels": false, "ticks": false, "domain": false, "grid": true, "gridColor": "#efefef", "gridWidth": 0.6, "minExtent": 0, "maxExtent": 0}}}}
         ]}
      ], "spacing": -1}
    ], "spacing": 3.5}
  ],
  "spacing": 1
}
